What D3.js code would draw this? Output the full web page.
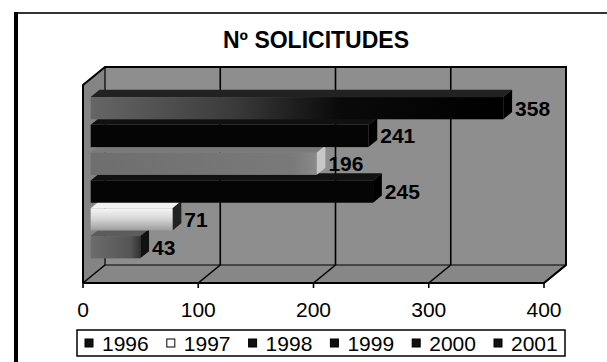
<!DOCTYPE html>
<html>
<head>
<meta charset="utf-8">
<script src="https://cdn.jsdelivr.net/npm/d3@7"></script>
<style>
  body { margin: 0; background: #fff; }
  svg { display: block; font-family: "Liberation Sans", Arial, sans-serif; }
</style>
</head>
<body>
<svg id="chart" width="607" height="362"></svg>
<script>
// Data
const chartTitle = "Nº SOLICITUDES";
const years = ["1996", "1997", "1998", "1999", "2000", "2001"];
const solicitudes = [43, 71, 245, 196, 241, 358];
const tickValues = [0, 100, 200, 300, 400];

// Layout of the 3D box: front plane and the depth offset of the back wall
const frontLeft = 83, frontRight = 544, frontTop = 85, frontBottom = 283;
const depthX = 22, depthY = -18;
// bars sit part way into the box and have a fraction of its depth
const barOffX = depthX * 0.35, barOffY = depthY * 0.35;
const barDX = depthX * 0.4, barDY = depthY * 0.4;

const svg = d3.select("#chart");
const defs = svg.append("defs");

const x = d3.scaleLinear().domain([0, 400]).range([frontLeft, frontRight]);
const y = d3.scaleBand()
  .domain(years.slice().reverse())
  .range([frontTop, frontBottom])
  .paddingInner(0.2)
  .paddingOuter(0.66);

// Fills for each series (front face, top face, end face)
const styles = {
  "1996": { front: "url(#g1996)", top: "#5c5c5c", end: "#111" },
  "1997": { front: "url(#g1997)", top: "#f2f2f2", end: "#222" },
  "1998": { front: "#050505", top: "#111", end: "#000" },
  "1999": { front: "url(#g1999)", top: "#7a7a7a", end: "#c8c8c8" },
  "2000": { front: "#050505", top: "#111", end: "#000" },
  "2001": { front: "url(#g2001)", top: "#222", end: "#000" }
};
const legendFill = { "1996": "#111", "1997": "#fff", "1998": "#111", "1999": "#111", "2000": "#111", "2001": "#111" };

function linGrad(id, x2, y2, stops) {
  const g = defs.append("linearGradient").attr("id", id)
    .attr("x1", 0).attr("y1", 0).attr("x2", x2).attr("y2", y2);
  stops.forEach(([o, c]) => g.append("stop").attr("offset", o).attr("stop-color", c));
}
linGrad("g1996", 1, 0, [[0, "#6c6c6c"], [0.8, "#555"], [1, "#333"]]);
linGrad("g1997", 0, 1, [[0, "#f6f6f6"], [0.45, "#d8d8d8"], [1, "#9c9c9c"]]);
linGrad("g1999", 1, 0, [[0, "#6e6e6e"], [0.9, "#7a7a7a"], [1, "#8a8a8a"]]);
linGrad("g2001", 1, 0, [[0, "#666"], [0.35, "#3a3a3a"], [0.6, "#0a0a0a"], [1, "#000"]]);

const poly = pts => pts.map(p => p.join(",")).join(" ");

// Outer frame
svg.append("line").attr("x1", 16).attr("y1", 13).attr("x2", 607).attr("y2", 13)
  .attr("stroke", "#333").attr("stroke-width", 2);
svg.append("line").attr("x1", 16).attr("y1", 12).attr("x2", 16).attr("y2", 362)
  .attr("stroke", "#000").attr("stroke-width", 4);

// Title
svg.append("text")
  .attr("x", 316).attr("y", 48)
  .attr("text-anchor", "middle")
  .attr("font-weight", "bold").attr("font-size", 23)
  .text(chartTitle);

// Walls
const backLeft = frontLeft + depthX, backRight = frontRight + depthX;
const backTop = frontTop + depthY, backBottom = frontBottom + depthY;
svg.append("polygon") // back wall
  .attr("points", poly([[backLeft, backTop], [backRight, backTop], [backRight, backBottom], [backLeft, backBottom]]))
  .attr("fill", "#8e8e8e");
svg.append("polygon") // side wall
  .attr("points", poly([[frontLeft, frontTop], [backLeft, backTop], [backLeft, backBottom], [frontLeft, frontBottom]]))
  .attr("fill", "#848484");
svg.append("polygon") // floor
  .attr("points", poly([[frontLeft, frontBottom], [backLeft, backBottom], [backRight, backBottom], [frontRight, frontBottom]]))
  .attr("fill", "#878787");

// Gridlines on the back wall and across the floor, plus tick marks
const grid = svg.append("g").attr("stroke", "#000").attr("stroke-width", 1.6).attr("fill", "none");
tickValues.forEach(t => {
  const xf = x(t), xb = x(t) + depthX;
  if (t > 0 && t < 400) {
    grid.append("line").attr("x1", xb).attr("y1", backTop).attr("x2", xb).attr("y2", backBottom);
  }
  grid.append("line").attr("x1", xb).attr("y1", backBottom).attr("x2", xf).attr("y2", frontBottom);
  grid.append("line").attr("x1", xf).attr("y1", frontBottom).attr("x2", xf).attr("y2", frontBottom + 5);
});
// Box outline
grid.append("polyline")
  .attr("points", poly([[frontLeft, frontBottom], [frontLeft, frontTop], [backLeft, backTop], [backRight, backTop], [backRight, backBottom], [frontRight, frontBottom], [frontLeft, frontBottom]]))
  .attr("stroke-width", 2);
grid.append("line").attr("x1", backLeft).attr("y1", backTop).attr("x2", backLeft).attr("y2", backBottom).attr("stroke-width", 1.2);
grid.append("line").attr("x1", backLeft).attr("y1", backBottom).attr("x2", backRight).attr("y2", backBottom).attr("stroke-width", 1);

// Bars, drawn bottom first so upper bars cover the top faces beneath
const series = years.map((yr, i) => ({ year: yr, value: solicitudes[i] }));
const bars = svg.append("g");
series.forEach(d => {
  const s = styles[d.year];
  const x0 = x(0) + barOffX, x1 = x(d.value) + barOffX;
  const y0 = y(d.year) + barOffY, y1 = y0 + y.bandwidth();
  const g = bars.append("g");
  g.append("polygon") // top face
    .attr("points", poly([[x0, y0], [x0 + barDX, y0 + barDY], [x1 + barDX, y0 + barDY], [x1, y0]]))
    .attr("fill", s.top);
  g.append("polygon") // end face
    .attr("points", poly([[x1, y0], [x1 + barDX, y0 + barDY], [x1 + barDX, y1 + barDY], [x1, y1]]))
    .attr("fill", s.end);
  g.append("rect") // front face
    .attr("x", x0).attr("y", y0)
    .attr("width", x1 - x0).attr("height", y1 - y0)
    .attr("fill", s.front);
});

// Value labels
svg.append("g")
  .selectAll("text")
  .data(series)
  .join("text")
  .attr("x", d => x(d.value) + barOffX + barDX + 3)
  .attr("y", d => y(d.year) + barOffY + y.bandwidth() / 2 + 7.5)
  .attr("font-weight", "bold").attr("font-size", 21)
  .attr("fill", "#000")
  .text(d => d.value);

// Axis tick labels
svg.append("g")
  .selectAll("text")
  .data(tickValues)
  .join("text")
  .attr("x", d => x(d))
  .attr("y", 317)
  .attr("text-anchor", "middle")
  .attr("font-size", 21)
  .text(d => d);

// Legend
const legendX = d3.scaleBand().domain(years).range([85, 85 + 6 * 81.8]);
svg.append("rect")
  .attr("x", 77).attr("y", 330).attr("width", 488).attr("height", 26)
  .attr("fill", "#fff").attr("stroke", "#000").attr("stroke-width", 1.5);
const items = svg.append("g").selectAll("g").data(years).join("g")
  .attr("transform", d => `translate(${legendX(d)},343)`);
items.append("rect")
  .attr("x", 0).attr("y", -4).attr("width", 8).attr("height", 8)
  .attr("fill", d => legendFill[d]).attr("stroke", "#000").attr("stroke-width", 1);
items.append("text")
  .attr("x", 17).attr("y", 7.5)
  .attr("font-size", 21)
  .text(d => d);
</script>
</body>
</html>
